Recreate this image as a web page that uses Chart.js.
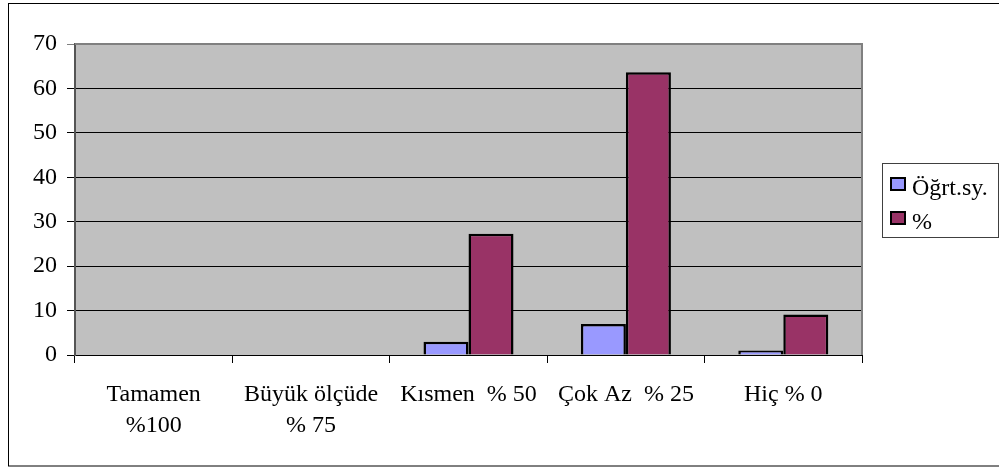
<!DOCTYPE html>
<html>
<head>
<meta charset="utf-8">
<script src="https://cdn.jsdelivr.net/npm/chart.js@4"></script>
<style>
html,body{margin:0;padding:0;background:#fff;}
#wrap{position:absolute;left:0;top:0;width:999px;height:470px;}
</style>
</head>
<body>
<div id="wrap"><canvas id="c" width="999" height="470"></canvas></div>
<script>
const categories = [["Tamamen", "%100"], ["Büyük ölçüde", "% 75"], "Kısmen  % 50", "Çok Az  % 25", "Hiç % 0"];
const seriesNames = ["Öğrt.sy.", "%"];
const teacherCounts = [0, 0, 3, 7, 1];
const percentValues = [0, 0, 27.27, 63.64, 9.09];
const yTicks = [0, 10, 20, 30, 40, 50, 60, 70];

const FONT = "'Liberation Serif', 'Times New Roman', serif";
const colors = ["#9999FF", "#993366"];

const bgPlugin = {
  id: 'bg',
  beforeDraw(chart) {
    const {ctx, chartArea: a} = chart;
    ctx.save();
    ctx.fillStyle = '#C0C0C0';
    ctx.fillRect(a.left, a.top, a.right - a.left, a.bottom - a.top);
    ctx.restore();
  },
  afterDraw(chart) {
    const {ctx, chartArea: a} = chart;
    ctx.save();
    ctx.strokeStyle = '#808080';
    ctx.lineWidth = 2;
    ctx.beginPath();
    ctx.moveTo(a.left, a.top);
    ctx.lineTo(a.right, a.top);
    ctx.lineTo(a.right, a.bottom);
    ctx.stroke();
    ctx.strokeStyle = '#000';
    ctx.lineWidth = 1;
    ctx.strokeRect(8.5, 3.5, 1010, 462.5);
    ctx.strokeStyle = '#404040';
    ctx.lineWidth = 1;
    ctx.strokeRect(882.5, 163.5, 116, 74);
    ctx.font = '24px ' + FONT;
    ctx.textBaseline = 'alphabetic';
    ctx.textAlign = 'left';
    const items = chart.data.datasets;
    const ys = [184, 218];
    items.forEach((ds, i) => {
      ctx.fillStyle = ds.backgroundColor;
      ctx.fillRect(891, ys[i] - 6, 14, 12);
      ctx.strokeStyle = '#000';
      ctx.lineWidth = 2;
      ctx.strokeRect(891, ys[i] - 6, 14, 12);
      ctx.fillStyle = '#000';
      ctx.fillText(ds.label, 912, ys[i] + 11);
    });
    ctx.restore();
  }
};

new Chart(document.getElementById('c'), {
  type: 'bar',
  data: {
    labels: categories,
    datasets: [
      {label: seriesNames[0], data: teacherCounts, backgroundColor: colors[0], borderColor: '#000',
       borderWidth: (c) => (c.raw === 0 ? 0 : 2.5), borderSkipped: 'start'},
      {label: seriesNames[1], data: percentValues, backgroundColor: colors[1], borderColor: '#000',
       borderWidth: (c) => (c.raw === 0 ? 0 : 2.5), borderSkipped: 'start'}
    ]
  },
  options: {
    responsive: false,
    animation: false,
    devicePixelRatio: 1,
    layout: {padding: {left: 0, right: 137, top: 44, bottom: 0}},
    datasets: {bar: {barPercentage: 1, categoryPercentage: 0.572}},
    plugins: {legend: {display: false}, tooltip: {enabled: false}},
    scales: {
      x: {
        afterFit(s) { s.height = 115; },
        grid: {display: true, drawOnChartArea: false, drawTicks: true, tickLength: 8, color: '#000', offset: true},
        border: {display: true, color: '#000', width: 1},
        ticks: {color: '#000', font: {family: FONT, size: 24, lineHeight: 1.3}, padding: 16, maxRotation: 0, autoSkip: false}
      },
      y: {
        min: 0, max: 70,
        afterFit(s) { s.width = 75; },
        afterBuildTicks(s) { s.ticks = yTicks.map(v => ({value: v})); },
        grid: {color: (c) => (c.tick && c.tick.value === 70 ? '#808080' : '#000'), lineWidth: 1, tickLength: 8, drawTicks: true},
        border: {display: true, color: '#555', width: 2},
        ticks: {color: '#000', font: {family: FONT, size: 24}, padding: 10}
      }
    }
  },
  plugins: [bgPlugin]
});
</script>
</body>
</html>
